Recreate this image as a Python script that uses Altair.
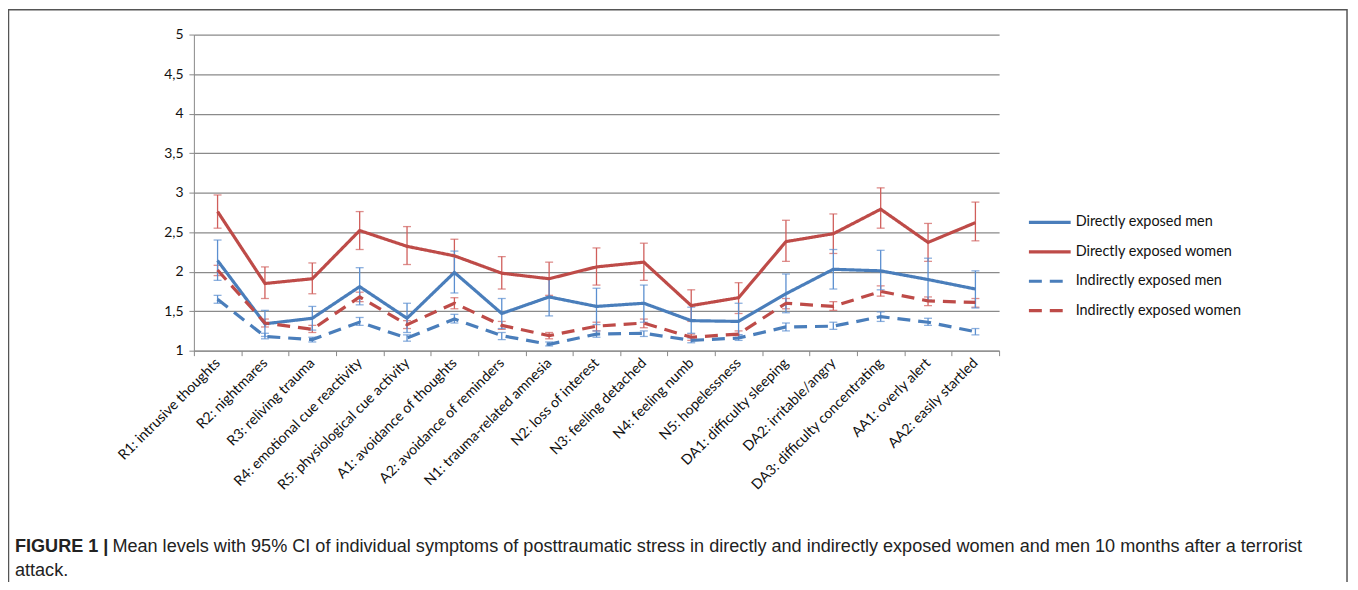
import altair as alt
import pandas as pd

categories = [
    "R1: intrusive thoughts", "R2: nightmares", "R3: reliving trauma",
    "R4: emotional cue reactivity", "R5: physiological cue activity",
    "A1: avoidance of thoughts", "A2: avoidance of reminders",
    "N1: trauma-related amnesia", "N2: loss of interest", "N3: feeling detached",
    "N4: feeling numb", "N5: hopelessness", "DA1: difficulty sleeping",
    "DA2: irritable/angry", "DA3: difficulty concentrating",
    "AA1: overly alert", "AA2: easily startled",
]

series_names = ["Directly exposed men", "Directly exposed women",
                "Indirectly exposed men", "Indirectly exposed women"]

dm_mean = [2.14, 1.34, 1.41, 1.81, 1.41, 1.99, 1.47, 1.68, 1.56, 1.60, 1.38, 1.37, 1.72, 2.03, 2.01, 1.90, 1.78]
dm_lo   = [1.89, 1.18, 1.26, 1.58, 1.23, 1.73, 1.28, 1.44, 1.33, 1.36, 1.22, 1.20, 1.48, 1.78, 1.77, 1.64, 1.54]
dm_hi   = [2.40, 1.51, 1.56, 2.05, 1.60, 2.26, 1.66, 1.92, 1.79, 1.83, 1.55, 1.60, 1.97, 2.28, 2.27, 2.17, 2.01]

dw_mean = [2.76, 1.85, 1.91, 2.52, 2.32, 2.20, 1.98, 1.91, 2.06, 2.12, 1.57, 1.67, 2.38, 2.48, 2.79, 2.37, 2.62]
dw_lo   = [2.55, 1.66, 1.72, 2.28, 2.09, 1.98, 1.78, 1.70, 1.83, 1.89, 1.37, 1.47, 2.13, 2.23, 2.55, 2.13, 2.39]
dw_hi   = [2.97, 2.06, 2.11, 2.76, 2.57, 2.41, 2.19, 2.12, 2.30, 2.36, 1.77, 1.86, 2.65, 2.73, 3.06, 2.61, 2.88]

im_mean = [1.65, 1.18, 1.14, 1.36, 1.16, 1.40, 1.19, 1.08, 1.21, 1.22, 1.13, 1.16, 1.30, 1.31, 1.43, 1.36, 1.24]
im_lo   = [1.60, 1.15, 1.11, 1.32, 1.12, 1.35, 1.14, 1.06, 1.17, 1.18, 1.10, 1.13, 1.25, 1.27, 1.37, 1.32, 1.20]
im_hi   = [1.70, 1.22, 1.17, 1.42, 1.20, 1.46, 1.23, 1.11, 1.25, 1.25, 1.16, 1.20, 1.35, 1.36, 1.49, 1.41, 1.28]

iw_mean = [2.02, 1.35, 1.27, 1.68, 1.33, 1.60, 1.32, 1.19, 1.31, 1.35, 1.17, 1.21, 1.60, 1.56, 1.75, 1.63, 1.61]
iw_lo   = [1.95, 1.30, 1.23, 1.62, 1.28, 1.53, 1.27, 1.15, 1.25, 1.29, 1.13, 1.17, 1.53, 1.51, 1.69, 1.57, 1.55]
iw_hi   = [2.08, 1.40, 1.32, 1.74, 1.38, 1.67, 1.37, 1.23, 1.36, 1.40, 1.21, 1.25, 1.66, 1.62, 1.82, 1.68, 1.66]

y_ticks = [1, 1.5, 2, 2.5, 3, 3.5, 4, 4.5, 5]

caption_bold = "FIGURE 1 |"
caption_line1 = ("Mean levels with 95% CI of individual symptoms of posttraumatic stress in "
                 "directly and indirectly exposed women and men 10 months after a terrorist")
caption_line2 = "attack."

BLUE = "#4a7ebb"
RED = "#be4b48"
BLUE_ERR = "#5b8fd0"
RED_ERR = "#d05e5b"

rows = []
for name, gender, m, lo, hi in [
    (series_names[0], "men", dm_mean, dm_lo, dm_hi),
    (series_names[1], "women", dw_mean, dw_lo, dw_hi),
    (series_names[2], "men", im_mean, im_lo, im_hi),
    (series_names[3], "women", iw_mean, iw_lo, iw_hi),
]:
    for c, a, b, d in zip(categories, m, lo, hi):
        rows.append({"category": c, "series": name, "gender": gender,
                     "mean": a, "lo": b, "hi": d})
df = pd.DataFrame(rows)

xscale = alt.Scale(type="band", domain=categories, paddingInner=0, paddingOuter=0)
yscale = alt.Scale(domain=[1, 5], nice=False, zero=False)

x_axis = alt.Axis(
    title=None, tickBand="extent", labelAngle=-45, labelAlign="right",
    labelBaseline="middle", labelFont="Lato", labelFontSize=14.3,
    labelColor="#111", labelPadding=5, domainColor="#888", tickColor="#888",
    tickSize=5, grid=False, labelOverlap=False, labelLimit=400,
)
y_axis = alt.Axis(
    title=None, values=y_ticks, labelExpr="replace(format(datum.value, '.1~f'), '.', ',')",
    labelFont="Lato", labelFontSize=14, labelColor="#111", labelPadding=6,
    domainColor="#888", tickColor="#888", tickSize=5, gridColor="#8a8a8a",
    gridWidth=1.2, labelOverlap=False, tickCount=9,
)

base = alt.Chart(df)

lines = base.mark_line(strokeWidth=3.2).encode(
    x=alt.X("category:N", scale=xscale, axis=x_axis, bandPosition=0.5),
    y=alt.Y("mean:Q", scale=yscale, axis=y_axis),
    color=alt.Color("series:N", scale=alt.Scale(domain=series_names,
                    range=[BLUE, RED, BLUE, RED]),
                    legend=alt.Legend(title=None, orient="none", legendX=838, legendY=181,
                                      symbolType="stroke", symbolSize=1764,
                                      symbolStrokeWidth=3.2, labelFont="Lato",
                                      labelFontSize=14.5, labelColor="#111",
                                      clipHeight=16, rowPadding=13.6, labelOffset=3,
                                      labelLimit=400)),
    strokeDash=alt.StrokeDash("series:N", scale=alt.Scale(domain=series_names,
                    range=[[1, 0], [1, 0], [13, 8], [13, 8]]), legend=None),
    detail="series:N",
)

def err_layers(gender, color):
    sub = base.transform_filter(alt.datum.gender == gender)
    r = sub.mark_rule(strokeWidth=1.3, color=color).encode(
        x=alt.X("category:N", scale=xscale, axis=x_axis, bandPosition=0.5),
        y=alt.Y("lo:Q", scale=yscale, axis=y_axis),
        y2="hi:Q",
    )
    t1 = sub.mark_tick(size=8, thickness=1.3, color=color, orient="horizontal").encode(
        x=alt.X("category:N", scale=xscale, axis=x_axis),
        y=alt.Y("lo:Q", scale=yscale, axis=y_axis),
    )
    t2 = sub.mark_tick(size=8, thickness=1.3, color=color, orient="horizontal").encode(
        x=alt.X("category:N", scale=xscale, axis=x_axis),
        y=alt.Y("hi:Q", scale=yscale, axis=y_axis),
    )
    return [r, t1, t2]

frame = alt.Chart(pd.DataFrame({"a": [0]})).mark_rect(
    fillOpacity=0, stroke="#555", strokeWidth=1.5
).encode(x=alt.value(-186.5), x2=alt.value(1160), y=alt.value(-25), y2=alt.value(600))

cap_font = "Liberation Sans"
cap_size = 18.2
cap_b = alt.Chart(pd.DataFrame({"t": [caption_bold]})).mark_text(
    align="left", baseline="alphabetic", font=cap_font, fontSize=cap_size,
    fontWeight="bold", color="#222"
).encode(text="t:N", x=alt.value(-180), y=alt.value(521))
cap_1 = alt.Chart(pd.DataFrame({"t": [caption_line1]})).mark_text(
    align="left", baseline="alphabetic", font=cap_font, fontSize=cap_size, color="#222"
).encode(text="t:N", x=alt.value(-82), y=alt.value(521))
cap_2 = alt.Chart(pd.DataFrame({"t": [caption_line2]})).mark_text(
    align="left", baseline="alphabetic", font=cap_font, fontSize=cap_size, color="#222"
).encode(text="t:N", x=alt.value(-180), y=alt.value(545))

layers = err_layers("women", RED_ERR) + err_layers("men", BLUE_ERR) + [lines, frame, cap_b, cap_1, cap_2]

chart = alt.layer(*layers).properties(
    width=810, height=318,
    padding={"left": 187, "top": 25, "right": 353, "bottom": 231},
    autosize=alt.AutoSizeParams(type="none"),
).configure_view(stroke=None)

chart.save("out.html", embed_options={"renderer": "svg", "actions": False})
